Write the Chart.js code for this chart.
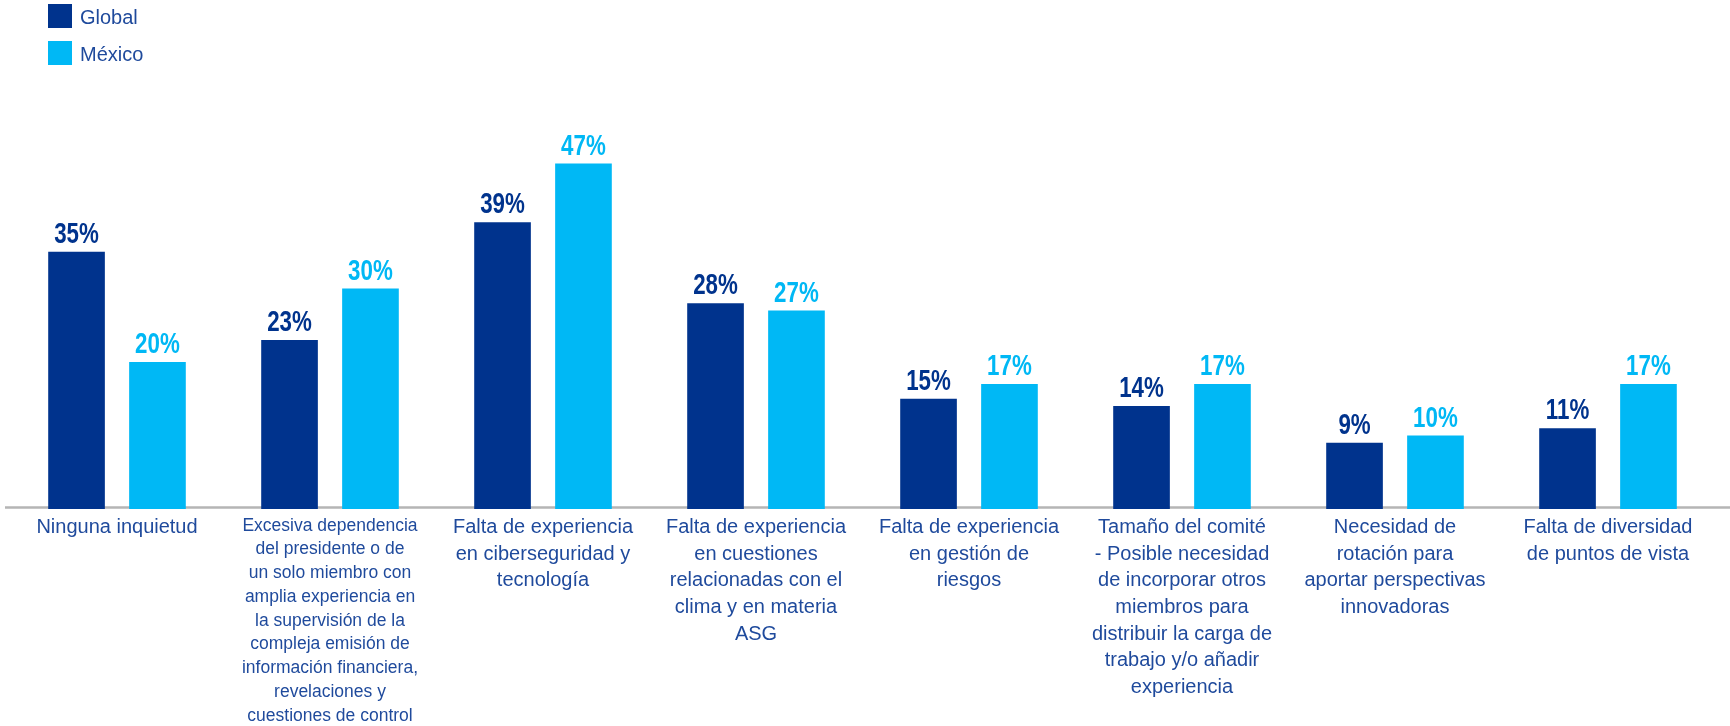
<!DOCTYPE html>
<html lang="es">
<head>
<meta charset="utf-8">
<title>Principales inquietudes sobre el comité</title>
<script src="https://cdn.jsdelivr.net/npm/chart.js@4.4.1/dist/chart.umd.min.js"></script>
<style>
  html, body { margin: 0; padding: 0; background: #fff; }
  #wrap { position: relative; width: 1730px; height: 726px; }
  #legend { position: absolute; left: 48px; top: 4px; font-family: "Liberation Sans", Arial, sans-serif; font-size: 20px; color: #1f4a9c; }
  #legend div { display: flex; align-items: center; height: 24px; margin-bottom: 13px; }
  #legend span.box { display: inline-block; width: 24px; height: 24px; margin-right: 8px; }
  #legend span.txt { position: relative; top: 1px; }
</style>
</head>
<body>
<div id="wrap">
  <canvas id="myChart" width="1730" height="726"></canvas>
  <div id="legend"></div>
</div>
<script>
'use strict';

let seriesNames = ['Global', 'México'];
let seriesColors = ['#00338d', '#00b8f5'];

let categories = [
    ['Ninguna inquietud'],
    ['Excesiva dependencia', 'del presidente o de', 'un solo miembro con', 'amplia experiencia en',
        'la supervisión de la', 'compleja emisión de', 'información financiera,', 'revelaciones y',
        'cuestiones de control'],
    ['Falta de experiencia', 'en ciberseguridad y', 'tecnología'],
    ['Falta de experiencia', 'en cuestiones', 'relacionadas con el', 'clima y en materia', 'ASG'],
    ['Falta de experiencia', 'en gestión de', 'riesgos'],
    ['Tamaño del comité', '- Posible necesidad', 'de incorporar otros', 'miembros para',
        'distribuir la carga de', 'trabajo y/o añadir', 'experiencia'],
    ['Necesidad de', 'rotación para', 'aportar perspectivas', 'innovadoras'],
    ['Falta de diversidad', 'de puntos de vista']
];

let globalValues = [35, 23, 39, 28, 15, 14, 9, 11];
let mexicoValues = [20, 30, 47, 27, 17, 17, 10, 17];

let textColor = '#1f4a9c';
let textFont = '"Liberation Sans", Arial, sans-serif';

// legend squares on top left
let legend = document.getElementById('legend');
for (let i = 0; i < seriesNames.length; i++) {
    let row = document.createElement('div');
    let box = document.createElement('span');
    box.className = 'box';
    box.style.background = seriesColors[i];
    let txt = document.createElement('span');
    txt.className = 'txt';
    txt.textContent = seriesNames[i];
    row.appendChild(box);
    row.appendChild(txt);
    legend.appendChild(row);
}

// grey base line, drawn under the bars
let baseLine = {
    id: 'baseLine',
    beforeDatasetsDraw(chart) {
        let ctx = chart.ctx;
        let y = chart.scales.y.getPixelForValue(0) - 1.5;
        ctx.save();
        ctx.strokeStyle = '#b5b5b5';
        ctx.lineWidth = 2.5;
        ctx.beginPath();
        ctx.moveTo(5, y);
        ctx.lineTo(chart.width, y);
        ctx.stroke();
        ctx.restore();
    }
};

// percent labels over every bar, condensed bold
let valueLabels = {
    id: 'valueLabels',
    afterDatasetsDraw(chart) {
        let ctx = chart.ctx;
        chart.data.datasets.forEach(function (dataset, d) {
            let meta = chart.getDatasetMeta(d);
            meta.data.forEach(function (bar, i) {
                ctx.save();
                ctx.translate(bar.x, bar.y - 9);
                ctx.scale(0.77, 1);
                ctx.font = 'bold 29px "Liberation Sans Narrow", "Liberation Sans", Arial, sans-serif';
                ctx.fillStyle = seriesColors[d];
                ctx.textAlign = 'center';
                ctx.textBaseline = 'alphabetic';
                ctx.fillText(dataset.data[i] + '%', 0, 0);
                ctx.restore();
            });
        });
    }
};

let ctx = document.getElementById('myChart').getContext('2d');

let chart = new Chart(ctx, {
    type: 'bar',
    data: {
        labels: categories,
        datasets: [
            {
                label: seriesNames[0],
                backgroundColor: seriesColors[0],
                data: globalValues
            },
            {
                label: seriesNames[1],
                backgroundColor: seriesColors[1],
                data: mexicoValues
            }
        ]
    },
    options: {
        responsive: false,
        animation: false,
        devicePixelRatio: 1,
        categoryPercentage: 0.76,
        barPercentage: 0.70,
        layout: {
            padding: { top: 68, left: 10.5, right: 15.5, bottom: 0 }
        },
        plugins: {
            legend: { display: false },
            tooltip: { enabled: false }
        },
        scales: {
            x: {
                grid: { display: false, drawTicks: false },
                border: { display: false },
                ticks: {
                    autoSkip: false,
                    maxRotation: 0,
                    minRotation: 0,
                    padding: 5,
                    color: textColor,
                    font: function (c) {
                        // the long second label is set a little smaller
                        if (c.index === 1) {
                            return { family: textFont, size: 17.5, lineHeight: 23.75 / 17.5 };
                        }
                        return { family: textFont, size: 20, lineHeight: 26.7 / 20 };
                    }
                },
                afterFit: function (scale) {
                    scale.height = 217;
                }
            },
            y: {
                display: false,
                min: 0,
                max: 60
            }
        }
    },
    plugins: [baseLine, valueLabels]
});
</script>
</body>
</html>
